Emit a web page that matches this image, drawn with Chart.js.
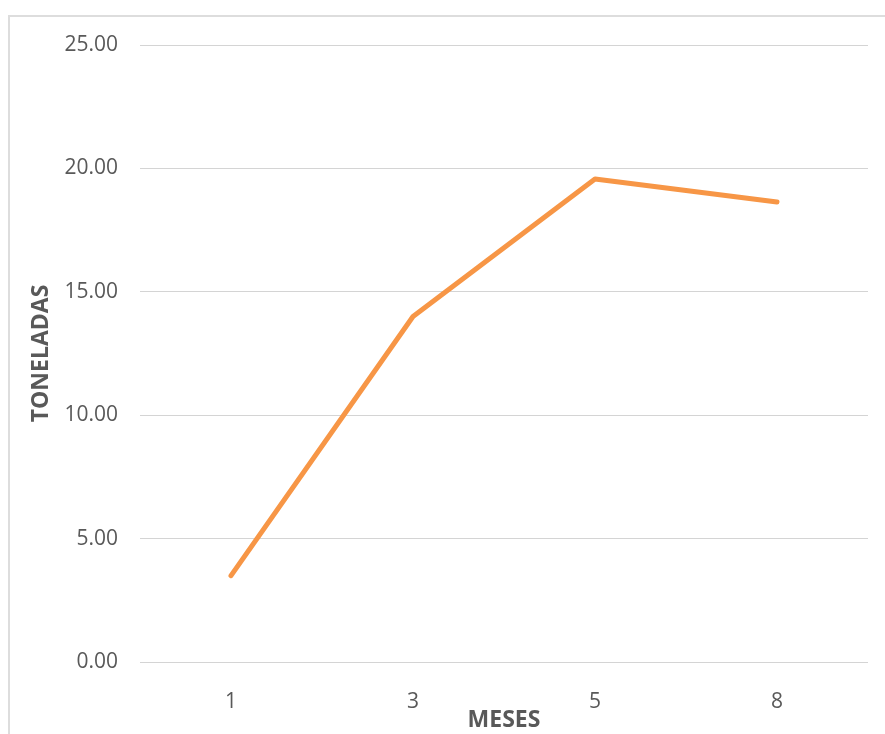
<!DOCTYPE html>
<html>
<head>
<meta charset="utf-8">
<script src="https://cdn.jsdelivr.net/npm/chart.js@4/dist/chart.umd.min.js"></script>
<style>
  html, body { margin: 0; padding: 0; background: #ffffff; overflow: hidden; }
  #wrap { position: relative; width: 885px; height: 734px; }
  #frame { position: absolute; left: 8px; top: 15px; width: 900px; height: 800px;
           border-left: 2px solid #dddddd; border-top: 2px solid #dddddd; }
  #c { position: absolute; left: 0; top: 0; }
</style>
</head>
<body>
<div id="wrap">
  <div id="frame"></div>
  <canvas id="c" width="885" height="734"></canvas>
</div>
<script>
// Months on the horizontal axis and tonnage per month
const meses = ['1', '3', '5', '8'];
const toneladas = [3.5, 14.0, 19.57, 18.64];
const yTicks = [0, 5, 10, 15, 20, 25];

const textColor = '#595959';
const gridColor = '#d4d4d4';
const family = '"Open Sans", sans-serif';

new Chart(document.getElementById('c'), {
  type: 'line',
  data: {
    labels: meses,
    datasets: [{
      data: toneladas,
      borderColor: '#F79646',
      borderWidth: 5,
      borderCapStyle: 'round',
      borderJoinStyle: 'round',
      pointRadius: 0,
      tension: 0,
      fill: false
    }]
  },
  options: {
    responsive: false,
    animation: false,
    layout: { padding: { top: 45, right: 17, bottom: 0, left: 0 } },
    plugins: { legend: { display: false }, tooltip: { enabled: false } },
    scales: {
      x: {
        offset: true,
        grid: { display: false },
        border: { display: false },
        ticks: { color: textColor, font: { family, size: 21 }, padding: 19 },
        title: {
          display: true, text: 'MESES', color: textColor,
          font: { family, size: 23, weight: 'bold' },
          padding: { top: 0, bottom: 0 }
        },
        afterFit(s) { s.height = 72; }
      },
      y: {
        min: yTicks[0],
        max: yTicks[yTicks.length - 1],
        afterBuildTicks(s) { s.ticks = yTicks.map(v => ({ value: v })); },
        grid: { color: gridColor, lineWidth: 1, drawTicks: false },
        border: { display: false },
        ticks: {
          color: textColor, font: { family, size: 21 }, padding: 22,
          callback: v => Number(v).toFixed(2)
        },
        title: {
          display: true, text: 'TONELADAS', color: textColor,
          font: { family, size: 23, weight: 'bold' },
          padding: { top: 28, bottom: 0 }
        },
        afterFit(s) { s.width = 140; }
      }
    }
  }
});
</script>
</body>
</html>
